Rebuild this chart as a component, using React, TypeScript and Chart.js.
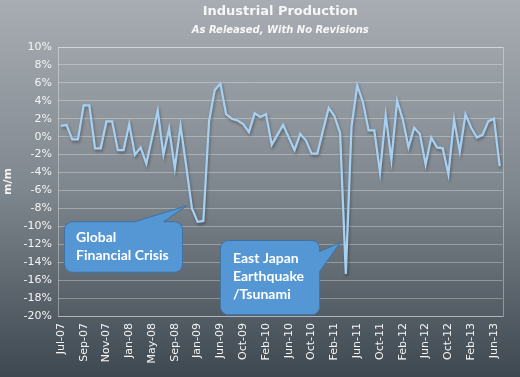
import React, { useEffect, useRef } from "react";
import { Chart, registerables } from "chart.js";

Chart.register(...registerables);

// ---- Data ----
const tickLabels = [
  "Jul-07", "Sep-07", "Nov-07", "Jan-08", "May-08", "Sep-08", "Jan-09", "Jun-09",
  "Oct-09", "Feb-10", "Jun-10", "Oct-10", "Feb-11", "Jun-11", "Oct-11", "Feb-12",
  "Jun-12", "Oct-12", "Feb-13", "Jun-13",
];
const tickEvery = 4;

// m/m % change, as released
const ipChange = [
  1.2, 1.3, -0.3, -0.3, 3.5, 3.5, -1.3, -1.3, 1.7, 1.7,
  -1.5, -1.5, 1.4, -2.0, -1.2, -3.0, -0.1, 2.9, -2.0, 0.9,
  -3.5, 1.2, -3.3, -8.0, -9.5, -9.4, 1.7, 5.2, 5.9, 2.5,
  2.0, 1.8, 1.4, 0.5, 2.6, 2.2, 2.5, -0.9, 0.2, 1.3,
  -0.1, -1.5, 0.3, -0.4, -1.9, -1.9, 0.7, 3.2, 2.3, 0.4,
  -15.3, 1.1, 5.7, 3.9, 0.7, 0.7, -4.0, 2.4, -2.6, 4.0,
  1.9, -1.2, 1.0, 0.3, -3.1, -0.1, -1.2, -1.3, -4.2, 1.9,
  -1.7, 2.5, 1.0, -0.1, 0.2, 1.7, 2.0, -3.3,
];

const categories = ipChange.map((_, i) =>
  i % tickEvery === 0 ? tickLabels[i / tickEvery] ?? "" : ""
);

const yMin = -20;
const yMax = 10;
const yStep = 2;

// Annotations: anchored on (category index, value); box geometry relative to the tip
const callouts = [
  {
    lines: ["Global", "Financial Crisis"],
    anchorIndex: 22.1,
    anchorValue: -7.7,
    dx: -122.3, dy: 16, w: 118, h: 50.6,
    side: "top", a: 70.3, b: 99,
    padX: 11.6, firstLine: 15.8,
  },
  {
    lines: ["East Japan", "Earthquake", "/Tsunami"],
    anchorIndex: 49.05,
    anchorValue: -11.8,
    dx: -120, dy: -2, w: 99.3, h: 74.3,
    side: "right", a: 11, b: 31,
    padX: 12.6, firstLine: 17.6,
  },
];

const lineShadow = {
  id: "lineShadow",
  beforeDatasetDraw(chart: any) {
    const ctx = chart.ctx;
    ctx.save();
    ctx.shadowColor = "rgba(0,0,0,0.35)";
    ctx.shadowBlur = 3;
    ctx.shadowOffsetX = 1;
    ctx.shadowOffsetY = 2;
  },
  afterDatasetDraw(chart: any) {
    chart.ctx.restore();
  },
};

const plotBorder = {
  id: "plotBorder",
  beforeDatasetsDraw(chart: any) {
    const { ctx, chartArea } = chart;
    ctx.save();
    ctx.strokeStyle = "rgba(255,255,255,0.35)";
    ctx.lineWidth = 1;
    ctx.strokeRect(
      Math.round(chartArea.left) + 0.5,
      Math.round(chartArea.top) + 0.5,
      Math.round(chartArea.right - chartArea.left),
      Math.round(chartArea.bottom - chartArea.top)
    );
    ctx.restore();
  },
};

const calloutPlugin = {
  id: "callouts",
  afterDraw(chart: any) {
    const ctx = chart.ctx;
    const xs = chart.scales.x;
    const ys = chart.scales.y;
    callouts.forEach((c) => {
      const tx = xs.getPixelForValue(c.anchorIndex);
      const ty = ys.getPixelForValue(c.anchorValue);
      const x = tx + c.dx;
      const y = ty + c.dy;
      const { w, h } = c;
      const r = 8;
      ctx.save();
      ctx.beginPath();
      ctx.moveTo(x + r, y);
      if (c.side === "top") {
        ctx.lineTo(x + c.a, y);
        ctx.lineTo(tx, ty);
        ctx.lineTo(x + c.b, y);
      }
      ctx.lineTo(x + w - r, y);
      ctx.arcTo(x + w, y, x + w, y + r, r);
      if (c.side === "right") {
        ctx.lineTo(x + w, y + c.a);
        ctx.lineTo(tx, ty);
        ctx.lineTo(x + w, y + c.b);
      }
      ctx.lineTo(x + w, y + h - r);
      ctx.arcTo(x + w, y + h, x + w - r, y + h, r);
      ctx.lineTo(x + r, y + h);
      ctx.arcTo(x, y + h, x, y + h - r, r);
      ctx.lineTo(x, y + r);
      ctx.arcTo(x, y, x + r, y, r);
      ctx.closePath();
      ctx.fillStyle = "#5597d4";
      ctx.fill();
      ctx.strokeStyle = "#3f71a3";
      ctx.lineWidth = 1;
      ctx.stroke();
      ctx.fillStyle = "#ffffff";
      ctx.font = "bold 14px Lato, 'Liberation Sans', sans-serif";
      ctx.textBaseline = "middle";
      ctx.textAlign = "left";
      c.lines.forEach((line, i) => {
        ctx.fillText(line, x + c.padX, y + c.firstLine + i * 18);
      });
      ctx.restore();
    });
  },
};

export default function App() {
  const canvasRef = useRef<HTMLCanvasElement | null>(null);

  useEffect(() => {
    document.body.style.margin = "0";
    const canvas = canvasRef.current;
    if (!canvas) return;
    Chart.defaults.font.family = "'DejaVu Sans', Verdana, sans-serif";
    const chart = new Chart(canvas, {
      type: "line",
      data: {
        labels: categories,
        datasets: [
          {
            data: ipChange,
            borderColor: "#a6d1f3",
            borderWidth: 2.25,
            pointRadius: 0,
            tension: 0,
            fill: false,
          },
        ],
      },
      options: {
        animation: false,
        responsive: true,
        maintainAspectRatio: false,
        layout: { padding: { left: 0, right: 5, top: 0, bottom: 0 } },
        plugins: {
          legend: { display: false },
          tooltip: { enabled: false },
          title: {
            display: true,
            text: "Industrial Production",
            color: "#f7f7f7",
            fullSize: false,
            font: { size: 13, weight: "bold" },
            padding: { top: 4, bottom: 4.4 },
          },
          subtitle: {
            display: true,
            text: "As Released, With No Revisions",
            color: "#f7f7f7",
            fullSize: false,
            font: { size: 10, weight: "bold", style: "italic" },
            padding: { top: 0, bottom: 11 },
          },
        },
        scales: {
          x: {
            type: "category",
            offset: true,
            grid: { display: false, drawTicks: false },
            border: { display: false },
            ticks: {
              autoSkip: false,
              minRotation: 90,
              maxRotation: 90,
              padding: 7,
              color: "#f4f4f4",
              font: { size: 11 },
            },
            afterFit(scale: any) {
              scale.height = 61;
            },
          },
          y: {
            min: yMin,
            max: yMax,
            grid: {
              color: "rgba(255,255,255,0.3)",
              lineWidth: 1,
              drawTicks: false,
            },
            border: { display: false },
            ticks: {
              stepSize: yStep,
              padding: 6,
              color: "#f4f4f4",
              font: { size: 11 },
              callback: (v: any) => `${v}%`,
            },
            title: {
              display: true,
              text: "m/m",
              color: "#f4f4f4",
              font: { size: 11, weight: "bold" },
              padding: { top: 2, bottom: 0 },
            },
            afterFit(scale: any) {
              scale.width = 58;
            },
          },
        },
      },
      plugins: [plotBorder, lineShadow, calloutPlugin],
    });
    return () => chart.destroy();
  }, []);

  return (
    <div
      style={{
        width: 520,
        height: 377,
        position: "relative",
        background: "linear-gradient(180deg, #a8adb3 0%, #7f878e 50%, #3e4850 100%)",
      }}
    >
      <canvas ref={canvasRef} />
    </div>
  );
}
